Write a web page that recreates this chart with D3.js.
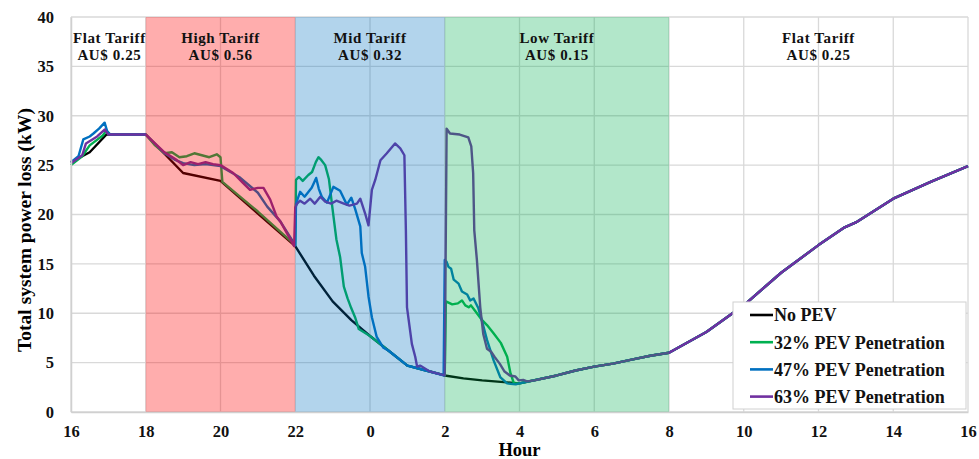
<!DOCTYPE html>
<meta charset="utf-8">
<script src="https://d3js.org/d3.v7.min.js"></script>
<title>Power loss</title>
<style>
  body { margin: 0; background: #fff; }
  svg { display: block; font-family: "Liberation Serif", "Times New Roman", serif; font-weight: bold; }
</style>
<body>
<script>

// hours are counted from 16:00 (0) to 16:00 next day (24)
var tickHours = [0, 2, 4, 6, 8, 10, 12, 14, 16, 18, 20, 22, 24];
var tickLabels = ["16", "18", "20", "22", "0", "2", "4", "6", "8", "10", "12", "14", "16"];
var yTicks = [0, 5, 10, 15, 20, 25, 30, 35, 40];

// tariff periods
var tariffNames = ["Flat Tariff", "High Tariff", "Mid Tariff", "Low Tariff", "Flat Tariff"];
var tariffPrices = ["AU$ 0.25", "AU$ 0.56", "AU$ 0.32", "AU$ 0.15", "AU$ 0.25"];
var tariffStart = [0, 2, 6, 10, 16];
var tariffEnd = [2, 6, 10, 16, 24];
var tariffFill = [null, "#ff0000", "#0070c0", "#00b050", null];

// common part of every curve after 4:00
var commonTail = [[13, 3.7], [13.5, 4.2], [14, 4.6], [14.5, 4.9], [15, 5.3], [15.5, 5.7], [16, 6.0],
  [17, 8.1], [18, 10.8], [19, 14.1], [20, 16.9], [20.7, 18.7], [21, 19.2], [22, 21.6], [23, 23.3], [24, 24.9]];

var noPev = [[0, 25.3], [0.5, 26.3], [0.95, 28.1], [2, 28.1], [3, 24.2], [4, 23.4], [5, 20.1], [6, 16.8],
  [6.5, 13.8], [7, 11.2], [7.5, 9.3], [8, 7.7], [8.5, 6.2], [9, 4.7], [9.5, 4.2], [10, 3.7],
  [10.5, 3.4], [11, 3.2], [11.5, 3.05], [12, 2.9]];

var pev32 = [[0, 25.0], [0.3, 25.9], [0.5, 27.0], [0.85, 28.0], [0.95, 28.5], [1.05, 28.1], [2, 28.1],
  [2.25, 27.0], [2.5, 26.2], [2.7, 26.3], [2.9, 25.8], [3.1, 25.9], [3.3, 26.2], [3.5, 26.0], [3.7, 25.8],
  [3.9, 26.1], [4.0, 25.8], [4.05, 23.3], [5, 20.3], [6, 16.9], [6.02, 23.5], [6.1, 23.8], [6.2, 23.4],
  [6.35, 24.0], [6.45, 24.3], [6.55, 25.3], [6.62, 25.8], [6.7, 25.5], [6.8, 25.0], [6.9, 23.6],
  [7.0, 20.5], [7.1, 17.5], [7.2, 15.7], [7.3, 12.7], [7.4, 11.5], [7.5, 10.5], [7.6, 9.6], [7.7, 8.4],
  [8, 7.7], [8.5, 6.2], [9, 4.7], [9.5, 4.2], [10, 3.7], [10.03, 11.2], [10.2, 10.9], [10.35, 11.0],
  [10.46, 11.3], [10.55, 10.8], [10.64, 10.6], [10.7, 10.8], [10.8, 10.3], [11.0, 9.3], [11.13, 8.8],
  [11.3, 8.0], [11.5, 7.0], [11.67, 5.6], [11.76, 3.9], [11.85, 2.9], [12, 2.9]];

var pev47 = [[0, 25.3], [0.2, 25.9], [0.33, 27.6], [0.5, 27.9], [0.6, 28.2], [0.75, 28.7], [0.9, 29.3],
  [0.97, 28.4], [1.05, 28.1], [2, 28.1], [2.5, 26.2], [2.8, 25.5], [3, 25.2], [3.3, 25.0], [3.6, 25.1],
  [4, 24.9], [4.5, 23.8], [5, 22.2], [5.25, 20.8], [5.6, 19.3], [6, 16.9], [6.02, 21.1], [6.13, 22.3],
  [6.25, 21.8], [6.44, 22.7], [6.56, 23.7], [6.63, 22.6], [6.71, 21.8], [6.85, 21.2], [7.02, 22.8],
  [7.2, 22.4], [7.38, 21.0], [7.5, 21.7], [7.6, 20.6], [7.74, 18.8], [7.78, 16.1], [7.87, 14.7],
  [7.96, 11.7], [8.05, 9.6], [8.18, 7.6], [8.36, 6.5], [8.5, 6.2], [9, 4.7], [9.5, 4.2], [9.97, 3.7],
  [10.0, 15.4], [10.05, 15.2], [10.1, 14.7], [10.17, 14.5], [10.24, 13.4], [10.37, 13.0], [10.46, 12.2],
  [10.6, 11.9], [10.68, 11.3], [10.77, 11.5], [10.9, 10.5], [10.99, 9.3], [11.13, 7.3], [11.31, 5.2],
  [11.49, 3.5], [11.67, 2.9], [11.9, 2.8], [12, 2.9]];

var pev63 = [[0, 25.2], [0.3, 26.0], [0.4, 27.2], [0.7, 27.9], [0.9, 28.6], [1.0, 28.1], [2, 28.1],
  [2.5, 26.3], [2.8, 25.6], [3, 25.0], [3.2, 25.3], [3.4, 25.1], [3.6, 25.3], [3.8, 25.1], [4, 25.0],
  [4.34, 24.2], [4.6, 23.2], [4.79, 22.5], [5.0, 22.7], [5.15, 22.7], [5.33, 21.5], [5.5, 19.8],
  [5.6, 19.3], [5.97, 16.8], [6.0, 20.7], [6.05, 21.1], [6.13, 21.4], [6.25, 21.1], [6.4, 21.6],
  [6.52, 21.1], [6.67, 21.8], [6.8, 21.3], [6.96, 21.1], [7.1, 21.4], [7.3, 21.1], [7.45, 20.9],
  [7.65, 21.1], [7.74, 21.6], [7.87, 20.1], [7.96, 18.9], [8.05, 22.5], [8.14, 23.5], [8.28, 25.5],
  [8.45, 26.2], [8.67, 27.2], [8.81, 26.7], [8.92, 26.0], [8.96, 18.4], [8.99, 10.6], [9.12, 6.9],
  [9.21, 5.6], [9.26, 4.6], [9.34, 4.7], [9.47, 4.4], [9.6, 4.1], [10, 3.7], [10.05, 28.7],
  [10.14, 28.2], [10.4, 28.1], [10.63, 27.8], [10.71, 26.9], [10.76, 24.2], [10.79, 18.4],
  [10.86, 15.4], [10.95, 10.6], [11.03, 7.9], [11.13, 6.4], [11.24, 6.1], [11.33, 5.6], [11.47, 4.9],
  [11.6, 4.1], [11.74, 3.7], [11.89, 3.6], [11.98, 3.2], [12.1, 3.25], [12.2, 3.1], [12.4, 3.2]];

var seriesNames = ["No PEV", "32% PEV Penetration", "47% PEV Penetration", "63% PEV Penetration"];
var seriesColors = ["#000000", "#00b050", "#0070c0", "#7030a0"];
var seriesData = [noPev, pev32, pev47, pev63].map(function(d) { return d.concat(commonTail); });

var margin = {top: 17, right: 11, bottom: 47, left: 71},
    width = 979 - margin.left - margin.right,
    height = 459 - margin.top - margin.bottom;

var svg = d3.select("body").append("svg")
    .attr("width", 979)
    .attr("height", 459);

var g = svg.append("g")
    .attr("transform", "translate(" + margin.left + "," + margin.top + ")");

var x = d3.scaleLinear().domain([0, 24]).range([0, width]);
var y = d3.scaleLinear().domain([0, 40]).range([height, 0]);

// grid
g.append("g").selectAll("line").data(yTicks).enter().append("line")
    .attr("x1", 0).attr("x2", width)
    .attr("y1", function(d) { return y(d); }).attr("y2", function(d) { return y(d); })
    .style("stroke", "#d9d9d9").style("stroke-width", 1.3);
g.append("g").selectAll("line").data(tickHours).enter().append("line")
    .attr("x1", function(d) { return x(d); }).attr("x2", function(d) { return x(d); })
    .attr("y1", 0).attr("y2", height)
    .style("stroke", "#d9d9d9").style("stroke-width", 1.3);

// lines
var line = d3.line()
    .x(function(d) { return x(d[0]); })
    .y(function(d) { return y(d[1]); });

g.append("g").selectAll("path").data(seriesData).enter().append("path")
    .attr("d", line)
    .style("fill", "none")
    .style("stroke", function(d, i) { return seriesColors[i]; })
    .style("stroke-width", 2.4)
    .style("stroke-linejoin", "round");

// tariff shading sits over the lines, like the original
g.append("g").selectAll("rect").data(d3.range(tariffStart.length).filter(function(i) { return tariffFill[i]; }))
    .enter().append("rect")
    .attr("x", function(i) { return x(tariffStart[i]); })
    .attr("width", function(i) { return x(tariffEnd[i]) - x(tariffStart[i]); })
    .attr("y", 0)
    .attr("height", height)
    .style("fill", function(i) { return tariffFill[i]; })
    .style("opacity", function(i) { return i == 1 ? 0.32 : 0.3; });

// tariff labels
function labelX(i) { return x((tariffStart[i] + tariffEnd[i]) / 2) + (i == 0 ? 1 : 0); }
var labels = g.append("g").selectAll("text").data(d3.range(tariffNames.length)).enter().append("text")
    .attr("text-anchor", "middle")
    .attr("x", labelX)
    .attr("y", 26)
    .style("font-size", "15px")
    .style("letter-spacing", "0.6px")
    .style("fill", "#111");
labels.append("tspan").text(function(i) { return tariffNames[i]; });
labels.append("tspan")
    .attr("x", labelX)
    .attr("dy", 17)
    .text(function(i) { return tariffPrices[i]; });

// axes
var xAxis = d3.axisBottom(x).tickValues(tickHours).tickSize(0).tickPadding(13)
    .tickFormat(function(d, i) { return tickLabels[i]; });
var yAxis = d3.axisLeft(y).tickValues(yTicks).tickSize(0).tickPadding(17);

var gx = g.append("g").attr("transform", "translate(0," + height + ")").call(xAxis);
var gy = g.append("g").call(yAxis);
[gx, gy].forEach(function(a) {
  a.select(".domain").style("stroke", "#d0d0d0").style("stroke-width", 1.5);
  a.selectAll("text").style("font-family", "Liberation Serif").style("font-weight", "bold")
    .style("font-size", "16.5px").style("fill", "#111");
});

svg.append("text")
    .attr("x", margin.left + x(12))
    .attr("y", 455.5)
    .attr("text-anchor", "middle")
    .style("font-size", "18.5px")
    .text("Hour");

svg.append("text")
    .attr("transform", "translate(31,230) rotate(-90)")
    .attr("text-anchor", "middle")
    .style("font-size", "19.5px")
    .text("Total system power loss (kW)");

// legend
var legend = svg.append("g").attr("transform", "translate(733,302)");
legend.append("rect")
    .attr("width", 233).attr("height", 107)
    .style("fill", "#fff").style("stroke", "#d0d0d0").style("stroke-width", 1);
var items = legend.selectAll("g.item").data(seriesNames).enter().append("g")
    .attr("transform", function(d, i) { return "translate(17," + (13 + i * 27.2) + ")"; });
items.append("line")
    .attr("x1", 0).attr("x2", 23)
    .style("stroke", function(d, i) { return seriesColors[i]; })
    .style("stroke-width", 2.6);
items.append("text")
    .attr("x", 24).attr("dy", "0.35em")
    .style("font-size", "18px")
    .style("fill", "#111")
    .text(function(d) { return d; });

</script>
</body>
